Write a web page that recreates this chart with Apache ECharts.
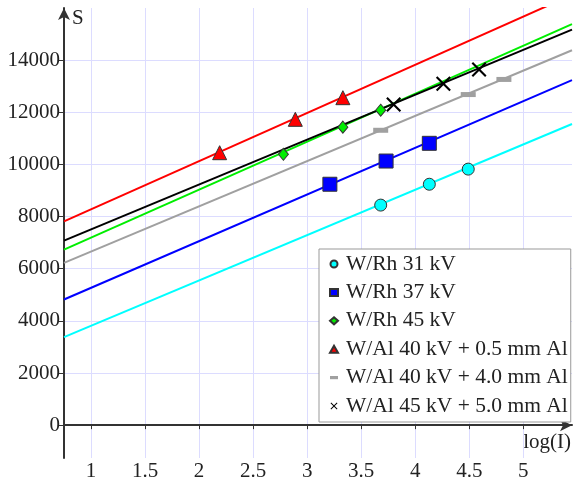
<!DOCTYPE html>
<html>
<head>
<meta charset="utf-8">
<script src="https://cdn.jsdelivr.net/npm/echarts@6/dist/echarts.min.js"></script>
<style>
  html, body { margin: 0; padding: 0; background: #fff; }
  #chart { width: 574px; height: 484px; }
</style>
</head>
<body>
<div id="chart"></div>
<script>
// axis ticks
const xTicks = [1, 1.5, 2, 2.5, 3, 3.5, 4, 4.5, 5]
const yTicks = [0, 2000, 4000, 6000, 8000, 10000, 12000, 14000]

// series names
const names = ['W/Rh 31 kV', 'W/Rh 37 kV', 'W/Rh 45 kV', 'W/Al 40 kV + 0.5 mm Al', 'W/Al 40 kV + 4.0 mm Al', 'W/Al 45 kV + 5.0 mm Al']

// measured points (log(I), S)
const rh31X = [3.68, 4.13, 4.49]
const rh31S = [8440, 9240, 9820]
const rh37X = [3.21, 3.73, 4.13]
const rh37S = [9240, 10130, 10810]
const rh45X = [2.78, 3.33, 3.68]
const rh45S = [10390, 11430, 12080]
const al40aX = [2.19, 2.89, 3.33]
const al40aS = [10450, 11730, 12560]
const al40bX = [3.68, 4.49, 4.82]
const al40bS = [11310, 12680, 13260]
const al45X = [3.80, 4.26, 4.59]
const al45S = [12300, 13090, 13640]

// fitted lines: S at log(I) = fitX[0] and fitX[1]
const fitX = [0.75, 5.45]
const fitLeft = [3377, 4818, 6730, 7813, 6222, 7075]
const fitRight = [11549, 13231, 15384, 16503, 14379, 15170]

const colors = ['#00ffff', '#0000ff', '#00ee00', '#ff0000', '#a0a0a0', '#000000']
const pointsX = [rh31X, rh37X, rh45X, al40aX, al40bX, al45X]
const pointsS = [rh31S, rh37S, rh45S, al40aS, al40bS, al45S]

const crossPath = 'path://M0,1L1,0L5,4L9,0L10,1L6,5L10,9L9,10L5,6L1,10L0,9L4,5Z'
const dashPath = 'path://M0,0H10V4H0Z'
const symbols = ['circle', 'rect', 'diamond', 'triangle', 'rect', crossPath]
const symbolSizes = [12, 14, [10, 12], 14, [15, 5], 15]
const legendIcons = ['circle', 'rect', 'diamond', 'triangle', dashPath, crossPath]

const font = 'Liberation Serif'

function makeSeries() {
  let ret = []
  for (let i = 0; i < names.length; i++) {
    ret.push({
      name: 'fit' + i,
      type: 'line',
      showSymbol: false,
      silent: true,
      clip: true,
      lineStyle: { color: colors[i], width: 2 },
      data: [[fitX[0], fitLeft[i]], [fitX[1], fitRight[i]]],
      z: 2
    })
  }
  for (let i = 0; i < names.length; i++) {
    const noBorder = i >= 4
    ret.push({
      name: names[i],
      type: 'scatter',
      symbol: symbols[i],
      symbolSize: symbolSizes[i],
      itemStyle: {
        color: colors[i],
        borderColor: noBorder ? colors[i] : '#333',
        borderWidth: noBorder ? 0 : 1,
        opacity: 1
      },
      data: pointsX[i].map((x, j) => [x, pointsS[i][j]]),
      z: 3
    })
  }
  return ret
}

const chart = echarts.init(document.getElementById('chart'))
chart.setOption({
  animation: false,
  backgroundColor: '#fff',
  grid: { left: 64, right: 2, top: 8, bottom: 26 },
  legend: {
    orient: 'vertical',
    left: 319,
    top: 249,
    padding: [4, 3, 5, 10],
    backgroundColor: '#fff',
    borderColor: '#999',
    borderWidth: 1,
    itemWidth: 8,
    itemHeight: 7,
    itemGap: 6.4,
    textStyle: { fontFamily: font, fontSize: 21.5, color: '#222', lineHeight: 22, padding: [0, 0, 0, 3] },
    data: names.map((n, i) => ({ name: n, icon: legendIcons[i] }))
  },
  // x axis title sits above the arrow end
  graphic: [{
    type: 'text',
    right: 3,
    top: 432,
    style: { text: 'log(I)', font: '21px "Liberation Serif"', fill: '#222' }
  }],
  xAxis: {
    type: 'value',
    min: 0.75,
    max: 5.45,
    axisLine: { lineStyle: { color: '#333', width: 2 }, symbol: ['none', 'arrow'], symbolSize: [9, 12] },
    axisTick: { show: true, length: 4, lineStyle: { color: '#333' }, customValues: xTicks },
    axisLabel: { fontFamily: font, fontSize: 21, color: '#222', margin: 3, customValues: xTicks },
    splitLine: { show: true, lineStyle: { color: '#dcdcff', width: 1 } }
  },
  yAxis: {
    type: 'value',
    min: -1260,
    max: 16000,
    name: 'S',
    nameLocation: 'end',
    nameGap: 0,
    nameMoveOverlap: false,
    nameTextStyle: { fontFamily: font, fontSize: 21, color: '#222', align: 'left', verticalAlign: 'top', padding: [0, 0, 0, 8] },
    axisLine: { show: true, lineStyle: { color: '#333', width: 2 }, symbol: ['none', 'arrow'], symbolSize: [9, 12] },
    axisTick: { show: true, length: 5, lineStyle: { color: '#333' }, customValues: yTicks },
    axisLabel: { fontFamily: font, fontSize: 21, color: '#222', margin: 4, customValues: yTicks, formatter: v => String(v) },
    splitLine: { show: true, lineStyle: { color: '#dcdcff', width: 1 } }
  },
  series: makeSeries()
})
</script>
</body>
</html>
